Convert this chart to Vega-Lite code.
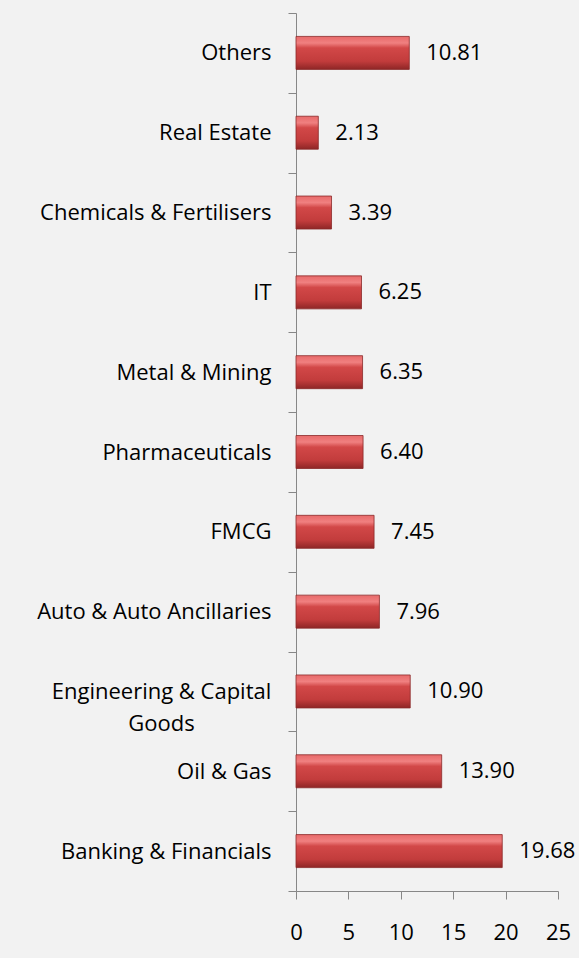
{
  "$schema": "https://vega.github.io/schema/vega-lite/v6.json",
  "autosize": {"type": "none"},
  "width": 262,
  "height": 878,
  "padding": {"left": 296, "top": 13, "right": 21, "bottom": 67},
  "background": "#f2f2f2",
  "config": {
    "view": {"stroke": null},
    "font": "Open Sans"
  },
  "data": {
    "values": [
      {"sector": "Others", "value": 10.81},
      {"sector": "Real Estate", "value": 2.13},
      {"sector": "Chemicals & Fertilisers", "value": 3.39},
      {"sector": "IT", "value": 6.25},
      {"sector": "Metal & Mining", "value": 6.35},
      {"sector": "Pharmaceuticals", "value": 6.40},
      {"sector": "FMCG", "value": 7.45},
      {"sector": "Auto & Auto Ancillaries", "value": 7.96},
      {"sector": "Engineering & Capital Goods", "value": 10.90},
      {"sector": "Oil & Gas", "value": 13.90},
      {"sector": "Banking & Financials", "value": 19.68}
    ]
  },
  "encoding": {
    "y": {
      "field": "sector",
      "type": "nominal",
      "sort": null,
      "scale": {"paddingInner": 0, "paddingOuter": 0},
      "axis": {
        "title": null,
        "tickBand": "extent",
        "domainColor": "#878787",
        "tickColor": "#878787",
        "tickSize": 8,
        "labelFont": "Open Sans",
        "labelFontSize": 22,
        "labelColor": "#000000",
        "labelLimit": 300,
        "labelLineHeight": 32,
        "labelPadding": {"condition": {"test": "datum.value == 'Engineering & Capital Goods'", "value": 127}, "value": 17},
        "labelAlign": {"condition": {"test": "datum.value == 'Engineering & Capital Goods'", "value": "center"}, "value": "right"},
        "labelExpr": "datum.value == 'Engineering & Capital Goods' ? ['Engineering & Capital', 'Goods'] : datum.value"
      }
    },
    "x": {
      "field": "value",
      "type": "quantitative",
      "scale": {"domain": [0, 25], "nice": false},
      "axis": {
        "title": null,
        "values": [0, 5, 10, 15, 20, 25],
        "grid": false,
        "labelFlush": false,
        "labelOverlap": false,
        "domainColor": "#878787",
        "tickColor": "#878787",
        "tickSize": 8,
        "labelFont": "Open Sans",
        "labelFontSize": 22,
        "labelColor": "#000000",
        "labelPadding": 23
      }
    }
  },
  "layer": [
    {
      "mark": {
        "type": "bar",
        "size": 33,
        "stroke": "#8a2a2a",
        "strokeWidth": 0.8,
        "color": {
          "gradient": "linear",
          "x1": 0, "y1": 0, "x2": 0, "y2": 1,
          "stops": [
            {"offset": 0, "color": "#e86a6a"},
            {"offset": 0.2, "color": "#f08080"},
            {"offset": 0.35, "color": "#d24848"},
            {"offset": 0.75, "color": "#c23c3c"},
            {"offset": 1, "color": "#8e2626"}
          ]
        }
      }
    },
    {
      "mark": {"type": "text", "align": "left", "baseline": "middle", "dx": 17, "fontSize": 22, "font": "Open Sans", "color": "#000000"},
      "encoding": {
        "text": {"field": "value", "type": "quantitative", "format": ".2f"}
      }
    }
  ]
}
